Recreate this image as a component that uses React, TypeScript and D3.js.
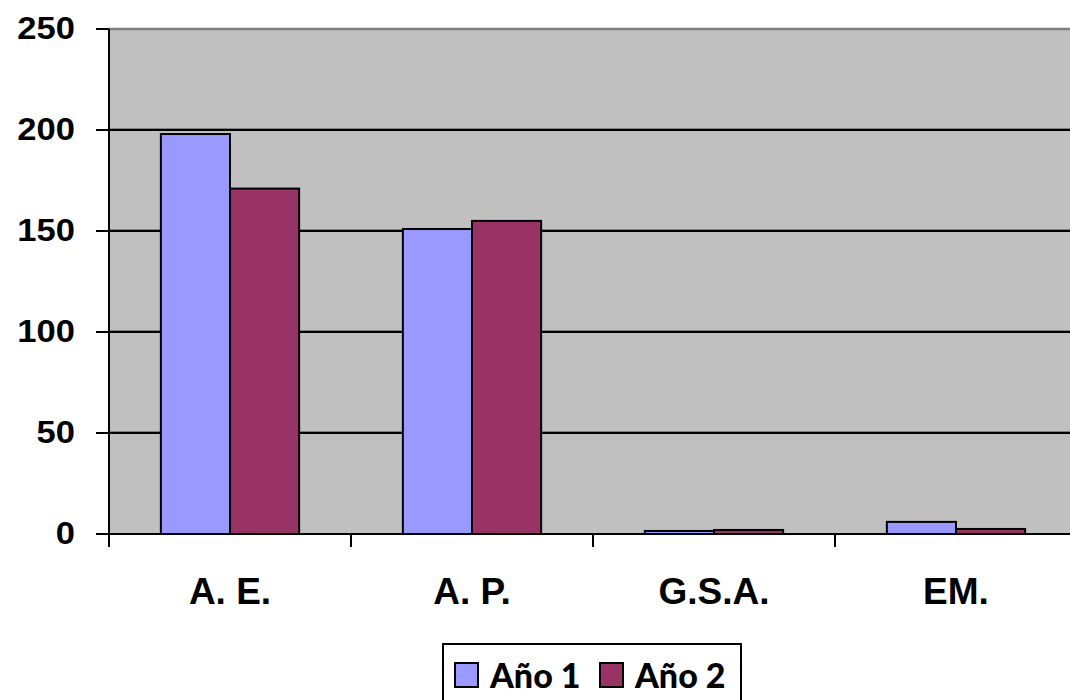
import React from "react";
import * as d3 from "d3";

const categories = ["A. E.", "A. P.", "G.S.A.", "EM."];
const seriesNames = ["Año 1", "Año 2"];
const ano1 = [198, 151, 1.5, 6];
const ano2 = [171, 155, 2, 2.5];
const yTicks = [0, 50, 100, 150, 200, 250];
const colors = ["#9999FF", "#993366"];

const W = 1070;
const H = 700;
const left = 109;
const right = 1077;
const top = 29;
const bottom = 534;

export default function App() {
  const y = d3.scaleLinear().domain([0, 250]).range([bottom, top]);
  const x0 = d3.scaleBand<string>().domain(categories).range([left, right]).paddingInner(0).paddingOuter(0);
  const x1 = d3.scaleBand<string>().domain(seriesNames).range([0, x0.bandwidth()]).paddingInner(0).paddingOuter(0.75);
  const series = [ano1, ano2];
  const boundaries = categories.map((c) => x0(c) as number).concat([right]);

  return (
    <svg width={W} height={H} style={{ position: "absolute", top: 0, left: 0, background: "#fff" }}>
      <rect x={left} y={top} width={right - left} height={bottom - top} fill="#C0C0C0" />
      {yTicks.filter((t) => t > 0 && t < 250).map((t) => (
        <g key={t}>
          <line x1={left} x2={right} y1={y(t) - 1.5} y2={y(t) - 1.5} stroke="#808080" strokeWidth={1} />
          <line x1={left} x2={right} y1={y(t)} y2={y(t)} stroke="#000" strokeWidth={2} />
        </g>
      ))}
      <line x1={left} x2={right} y1={y(250)} y2={y(250)} stroke="#808080" strokeWidth={2.5} />
      {categories.map((c, i) => (
        <g key={c}>
          {seriesNames.map((s, j) => {
            const v = series[j][i];
            return (
              <rect
                key={s}
                x={(x0(c) as number) + (x1(s) as number)}
                y={y(v)}
                width={x1.bandwidth()}
                height={bottom - y(v)}
                fill={colors[j]}
                stroke="#000"
                strokeWidth={2}
              />
            );
          })}
        </g>
      ))}
      <line x1={left} x2={left} y1={top} y2={bottom + 13} stroke="#000" strokeWidth={2} />
      <line x1={left - 13} x2={right} y1={bottom} y2={bottom} stroke="#000" strokeWidth={2} />
      {yTicks.map((t) => (
        <line key={t} x1={left - 13} x2={left} y1={y(t)} y2={y(t)} stroke="#000" strokeWidth={2} />
      ))}
      {boundaries.map((b, i) => (
        <line key={i} x1={b} x2={b} y1={bottom} y2={bottom + 13} stroke="#000" strokeWidth={2} />
      ))}
      {yTicks.map((t) => (
        <text
          key={t}
          transform={`translate(75, ${y(t) + 10}) scale(1.08, 1)`}
          textAnchor="end"
          fontFamily="Liberation Sans, Arial, sans-serif"
          fontWeight="bold"
          fontSize={32}
          fill="#000"
        >
          {t}
        </text>
      ))}
      {categories.map((c) => (
        <text
          key={c}
          x={(x0(c) as number) + x0.bandwidth() / 2}
          y={604}
          textAnchor="middle"
          fontFamily="Liberation Sans, Arial, sans-serif"
          fontWeight="bold"
          fontSize={37}
          fill="#000"
        >
          {c}
        </text>
      ))}
      <rect x={443} y={644} width={298} height={60} fill="#fff" stroke="#000" strokeWidth={2} />
      {seriesNames.map((s, j) => {
        const sx = j === 0 ? 455 : 600;
        return (
          <g key={s}>
            <rect x={sx} y={663} width={23} height={24} fill={colors[j]} stroke="#000" strokeWidth={2} />
            <text
              x={sx + 35}
              y={688}
              fontFamily="Lato, Open Sans, sans-serif"
              fontWeight={900}
              fontSize={34}
              fill="#000"
            >
              {s}
            </text>
          </g>
        );
      })}
    </svg>
  );
}
